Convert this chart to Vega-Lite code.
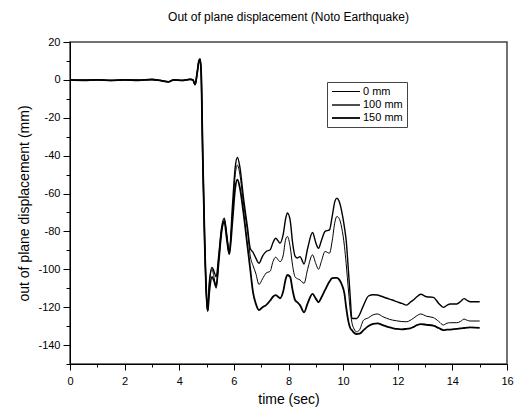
{
  "$schema": "https://vega.github.io/schema/vega-lite/v6.json",
  "width": 437,
  "height": 322,
  "autosize": {"type": "none"},
  "padding": {"left": 70, "top": 42, "right": 10, "bottom": 55},
  "title": {"text": "Out of plane displacement (Noto Earthquake)", "font": "Liberation Sans", "fontSize": 12, "fontWeight": "normal", "color": "black", "anchor": "middle", "offset": 12},
  "config": {
    "view": {"stroke": "#444", "strokeWidth": 1.5},
    "axis": {"labelFont": "Liberation Sans", "titleFont": "Liberation Sans", "labelFontSize": 11, "titleFontSize": 14, "titleFontWeight": "normal", "labelColor": "black", "titleColor": "black", "domainColor": "black", "tickColor": "black", "grid": false, "labelFlush": false}
  },
  "data": {"values": [
    {"t": 0, "0 mm": 0, "100 mm": 0, "150 mm": 0},
    {"t": 0.5, "0 mm": -0.2, "100 mm": -0.2, "150 mm": -0.2},
    {"t": 1, "0 mm": 0, "100 mm": 0, "150 mm": 0},
    {"t": 1.5, "0 mm": -0.3, "100 mm": -0.3, "150 mm": -0.3},
    {"t": 2, "0 mm": 0, "100 mm": 0, "150 mm": 0},
    {"t": 2.5, "0 mm": -0.2, "100 mm": -0.2, "150 mm": -0.2},
    {"t": 3, "0 mm": 0.2, "100 mm": 0.2, "150 mm": 0.2},
    {"t": 3.3, "0 mm": -0.3, "100 mm": -0.3, "150 mm": -0.3},
    {"t": 3.6, "0 mm": -1, "100 mm": -1, "150 mm": -1},
    {"t": 3.8, "0 mm": 0, "100 mm": 0, "150 mm": 0},
    {"t": 4.1, "0 mm": -0.3, "100 mm": -0.3, "150 mm": -0.3},
    {"t": 4.4, "0 mm": 0.3, "100 mm": 0.3, "150 mm": 0.3},
    {"t": 4.5, "0 mm": 0, "100 mm": 0, "150 mm": 0},
    {"t": 4.58, "0 mm": -2.5, "100 mm": -2.5, "150 mm": -2.5},
    {"t": 4.65, "0 mm": 3, "100 mm": 3, "150 mm": 3},
    {"t": 4.72, "0 mm": 10, "100 mm": 10, "150 mm": 10},
    {"t": 4.76, "0 mm": 11, "100 mm": 11, "150 mm": 11},
    {"t": 4.8, "0 mm": 5, "100 mm": 5, "150 mm": 5},
    {"t": 4.86, "0 mm": -40, "100 mm": -40, "150 mm": -40},
    {"t": 4.93, "0 mm": -85, "100 mm": -85, "150 mm": -85},
    {"t": 5.0, "0 mm": -115, "100 mm": -115, "150 mm": -115},
    {"t": 5.04, "0 mm": -122, "100 mm": -122, "150 mm": -122},
    {"t": 5.1, "0 mm": -108, "100 mm": -107, "150 mm": -112},
    {"t": 5.2, "0 mm": -100, "100 mm": -99, "150 mm": -104},
    {"t": 5.27, "0 mm": -104, "100 mm": -101, "150 mm": -106},
    {"t": 5.35, "0 mm": -110, "100 mm": -104, "150 mm": -109},
    {"t": 5.45, "0 mm": -95, "100 mm": -92, "150 mm": -95},
    {"t": 5.55, "0 mm": -80, "100 mm": -78, "150 mm": -80},
    {"t": 5.65, "0 mm": -74, "100 mm": -73, "150 mm": -75},
    {"t": 5.75, "0 mm": -84, "100 mm": -83, "150 mm": -85},
    {"t": 5.83, "0 mm": -92, "100 mm": -91, "150 mm": -92},
    {"t": 5.95, "0 mm": -70, "100 mm": -66, "150 mm": -74},
    {"t": 6.05, "0 mm": -50, "100 mm": -46, "150 mm": -57},
    {"t": 6.13, "0 mm": -45, "100 mm": -41, "150 mm": -52.7},
    {"t": 6.22, "0 mm": -50, "100 mm": -46, "150 mm": -57},
    {"t": 6.35, "0 mm": -65, "100 mm": -62, "150 mm": -70},
    {"t": 6.5, "0 mm": -80, "100 mm": -78, "150 mm": -88},
    {"t": 6.6, "0 mm": -93, "100 mm": -89, "150 mm": -100},
    {"t": 6.7, "0 mm": -98, "100 mm": -91, "150 mm": -112},
    {"t": 6.8, "0 mm": -102, "100 mm": -94, "150 mm": -118},
    {"t": 6.92, "0 mm": -108, "100 mm": -96.8, "150 mm": -121.5},
    {"t": 7.05, "0 mm": -105, "100 mm": -93, "150 mm": -120},
    {"t": 7.18, "0 mm": -102, "100 mm": -90.6, "150 mm": -118.9},
    {"t": 7.33, "0 mm": -101, "100 mm": -89.7, "150 mm": -116.5},
    {"t": 7.43, "0 mm": -96, "100 mm": -86, "150 mm": -114.5},
    {"t": 7.53, "0 mm": -93.6, "100 mm": -83.6, "150 mm": -113.6},
    {"t": 7.62, "0 mm": -95, "100 mm": -85, "150 mm": -114.5},
    {"t": 7.69, "0 mm": -96, "100 mm": -86.2, "150 mm": -115.3},
    {"t": 7.8, "0 mm": -93, "100 mm": -82, "150 mm": -112},
    {"t": 7.9, "0 mm": -84, "100 mm": -73, "150 mm": -105},
    {"t": 7.96, "0 mm": -82.7, "100 mm": -70.3, "150 mm": -103},
    {"t": 8.06, "0 mm": -88, "100 mm": -74, "150 mm": -104},
    {"t": 8.15, "0 mm": -98, "100 mm": -86, "150 mm": -111},
    {"t": 8.24, "0 mm": -104, "100 mm": -93, "150 mm": -116.2},
    {"t": 8.33, "0 mm": -105, "100 mm": -94, "150 mm": -117.5},
    {"t": 8.42, "0 mm": -105.6, "100 mm": -93.3, "150 mm": -118.9},
    {"t": 8.57, "0 mm": -107.4, "100 mm": -97.2, "150 mm": -122.7},
    {"t": 8.7, "0 mm": -100, "100 mm": -89, "150 mm": -118},
    {"t": 8.88, "0 mm": -92.4, "100 mm": -80.6, "150 mm": -113},
    {"t": 9.0, "0 mm": -97, "100 mm": -86, "150 mm": -115.5},
    {"t": 9.1, "0 mm": -100, "100 mm": -88.9, "150 mm": -117.4},
    {"t": 9.2, "0 mm": -96, "100 mm": -85, "150 mm": -115},
    {"t": 9.34, "0 mm": -90.6, "100 mm": -80, "150 mm": -110.9},
    {"t": 9.5, "0 mm": -91.5, "100 mm": -79.2, "150 mm": -106.5},
    {"t": 9.6, "0 mm": -85, "100 mm": -72, "150 mm": -104.7},
    {"t": 9.7, "0 mm": -75, "100 mm": -64, "150 mm": -104.5},
    {"t": 9.77, "0 mm": -72.1, "100 mm": -62.4, "150 mm": -104.5},
    {"t": 9.85, "0 mm": -73, "100 mm": -64, "150 mm": -105.3},
    {"t": 9.95, "0 mm": -78.2, "100 mm": -69.5, "150 mm": -108},
    {"t": 10.05, "0 mm": -88, "100 mm": -78, "150 mm": -113},
    {"t": 10.11, "0 mm": -96.8, "100 mm": -84.5, "150 mm": -120},
    {"t": 10.2, "0 mm": -112, "100 mm": -102, "150 mm": -128},
    {"t": 10.26, "0 mm": -121.5, "100 mm": -114.5, "150 mm": -131},
    {"t": 10.32, "0 mm": -128, "100 mm": -125.9, "150 mm": -132.1},
    {"t": 10.4, "0 mm": -131.5, "100 mm": -126, "150 mm": -133.5},
    {"t": 10.5, "0 mm": -133, "100 mm": -126, "150 mm": -134.2},
    {"t": 10.6, "0 mm": -132, "100 mm": -124, "150 mm": -134},
    {"t": 10.75, "0 mm": -126.8, "100 mm": -118.9, "150 mm": -132.1},
    {"t": 10.93, "0 mm": -125.6, "100 mm": -114.1, "150 mm": -130},
    {"t": 11.1, "0 mm": -124, "100 mm": -113.4, "150 mm": -128.8},
    {"t": 11.26, "0 mm": -123.6, "100 mm": -113.6, "150 mm": -128.5},
    {"t": 11.45, "0 mm": -125, "100 mm": -114.5, "150 mm": -129.5},
    {"t": 11.6, "0 mm": -125.9, "100 mm": -115.3, "150 mm": -130.3},
    {"t": 11.8, "0 mm": -126.8, "100 mm": -116.2, "150 mm": -131},
    {"t": 11.96, "0 mm": -127.2, "100 mm": -117.1, "150 mm": -131.5},
    {"t": 12.15, "0 mm": -127.6, "100 mm": -118, "150 mm": -131.7},
    {"t": 12.33, "0 mm": -127.7, "100 mm": -118.9, "150 mm": -131.4},
    {"t": 12.45, "0 mm": -127, "100 mm": -117.5, "150 mm": -131.2},
    {"t": 12.57, "0 mm": -125.9, "100 mm": -116.2, "150 mm": -130.5},
    {"t": 12.7, "0 mm": -124.5, "100 mm": -114.5, "150 mm": -129.5},
    {"t": 12.84, "0 mm": -123.6, "100 mm": -113.2, "150 mm": -128.9},
    {"t": 13.06, "0 mm": -124.8, "100 mm": -114.5, "150 mm": -129.3},
    {"t": 13.3, "0 mm": -125.5, "100 mm": -114.8, "150 mm": -129.8},
    {"t": 13.5, "0 mm": -127.5, "100 mm": -118, "150 mm": -131},
    {"t": 13.67, "0 mm": -129.4, "100 mm": -120.1, "150 mm": -132.1},
    {"t": 13.8, "0 mm": -128.5, "100 mm": -119, "150 mm": -131.9},
    {"t": 13.92, "0 mm": -128.2, "100 mm": -118.3, "150 mm": -131.8},
    {"t": 14.16, "0 mm": -128.2, "100 mm": -118.3, "150 mm": -131.5},
    {"t": 14.3, "0 mm": -127.5, "100 mm": -117, "150 mm": -131.2},
    {"t": 14.43, "0 mm": -126.3, "100 mm": -115.5, "150 mm": -131},
    {"t": 14.55, "0 mm": -127, "100 mm": -116.5, "150 mm": -130.8},
    {"t": 14.65, "0 mm": -127.3, "100 mm": -117.1, "150 mm": -130.7},
    {"t": 15.0, "0 mm": -127.3, "100 mm": -117.1, "150 mm": -130.9}
  ]},
  "transform": [{"fold": ["0 mm", "100 mm", "150 mm"], "as": ["s", "v"]}],
  "layer": [
    {
      "mark": {"type": "line", "interpolate": "monotone", "color": "black"},
      "encoding": {
        "x": {"field": "t", "type": "quantitative", "scale": {"domain": [0, 16], "nice": false, "zero": false},
              "axis": {"orient": "bottom", "values": [0, 2, 4, 6, 8, 10, 12, 14, 16], "tickSize": 6, "labelPadding": 5, "title": "time (sec)", "titlePadding": 6}},
        "y": {"field": "v", "type": "quantitative", "scale": {"domain": [-150, 20], "nice": false, "zero": false},
              "axis": {"orient": "left", "values": [-140, -120, -100, -80, -60, -40, -20, 0, 20], "tickSize": 7, "labelPadding": 3, "labelExpr": "replace(datum.label, '\u2212', '-')", "title": "out of plane displacement (mm)", "titlePadding": 6}},
        "strokeWidth": {"field": "s", "type": "ordinal", "scale": {"domain": ["0 mm", "100 mm", "150 mm"], "range": [1, 1.8, 3.5]},
              "legend": {"orient": "none", "legendX": 257, "legendY": 40, "title": null, "strokeColor": "#444", "padding": 4, "symbolType": "M-1,0L4.6,0", "symbolSize": 100, "symbolStrokeColor": "black", "labelFont": "Liberation Sans", "labelFontSize": 11, "labelColor": "black", "labelOffset": 20, "rowPadding": 2}}
      }
    },
    {
      "mark": {"type": "line", "opacity": 0},
      "encoding": {
        "x": {"field": "t", "type": "quantitative", "scale": {"domain": [0, 16], "nice": false, "zero": false},
              "axis": {"orient": "bottom", "values": [1, 3, 5, 7, 9, 11, 13, 15], "tickSize": 3, "labels": false, "domain": false, "title": null}},
        "y": {"field": "v", "type": "quantitative", "scale": {"domain": [-150, 20], "nice": false, "zero": false},
              "axis": {"orient": "left", "values": [-150, -130, -110, -90, -70, -50, -30, -10, 10], "tickSize": 4, "labels": false, "domain": false, "title": null}},
        "detail": {"field": "s"}
      }
    }
  ],
  "resolve": {"axis": {"x": "independent", "y": "independent"}}
}
